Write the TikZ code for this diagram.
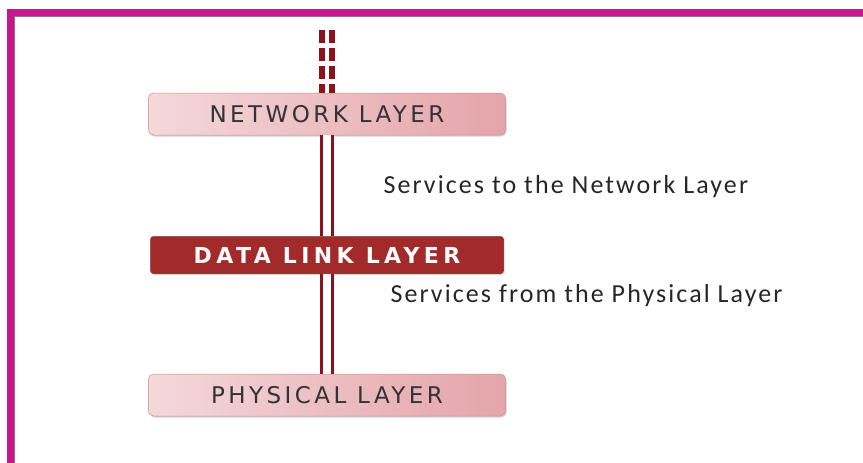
\documentclass[tikz,border=0pt]{standalone}
\usepackage{fontspec}
\setsansfont{Carlito}
\newfontfamily\boxfont[LetterSpace=15]{DejaVu Sans}
\newfontfamily\linkfont[LetterSpace=20]{DejaVu Sans}
\newfontfamily\servicefont[LetterSpace=8]{Carlito}
\usetikzlibrary{positioning, shadows}
\definecolor{framemagenta}{RGB}{200,22,140}
\definecolor{frameedge}{RGB}{150,105,150}
\definecolor{wirered}{RGB}{140,18,30}
\definecolor{linkred}{RGB}{162,42,42}
\definecolor{pinklight}{RGB}{244,216,218}
\definecolor{pinkdark}{RGB}{228,164,170}
\definecolor{pinkedge}{RGB}{205,140,145}

\begin{document}
\begin{tikzpicture}[x=1pt, y=-1pt, font=\sffamily,
    layerbox/.style={rounded corners=5pt, minimum width=357pt, minimum height=42pt,
        left color=pinklight, right color=pinkdark, draw=pinkedge, line width=0.5pt,
        text=black!80, font=\boxfont\fontsize{23}{26}\selectfont,
        drop shadow={shadow xshift=1pt, shadow yshift=-1.5pt, opacity=0.35}},
    linkbox/.style={rounded corners=3pt, minimum width=353pt, minimum height=37pt,
        fill=linkred, draw=linkred!80!black, line width=0.5pt,
        text=white!95!pink, font=\linkfont\bfseries\fontsize{22}{25}\selectfont,
        drop shadow={shadow xshift=1pt, shadow yshift=-1.5pt, opacity=0.35}},
    servicetext/.style={anchor=west, text=black!85, font=\servicefont\fontsize{26}{29}\selectfont},
    wire/.style={draw=wirered, line width=3.5pt, double=white, double distance=7.5pt}]

    \useasboundingbox (0,0) rectangle (863,463);

    % Frame (magenta, top and left only)
    \draw[framemagenta, line width=7pt] (10.5,463) |- (863,12.5);
    \draw[frameedge, line width=1.2pt] (14.6,463) |- (863,16.6);

    % Layers
    \node[layerbox] (network) at (327,114) {NETWORK LAYER};
    \node[linkbox, below=101pt of network] (datalink) {DATA LINK LAYER};
    \node[layerbox, below=100pt of datalink] (physical) {PHYSICAL LAYER};

    % Double lines between the layers
    \coordinate (feed) at (327,30);
    \draw[wire, line width=5.5pt, double distance=4.5pt, dash pattern=on 13pt off 5pt]
        (feed) -- (network.north);
    \draw[wire] (network.south) -- (datalink.north);
    \draw[wire] (datalink.south) -- (physical.north);

    % Services
    \node[servicetext] (toNet) at (380,187) {Services to the Network Layer};
    \node[servicetext] (fromPhy) at (387,296) {Services from the Physical Layer};
\end{tikzpicture}
\end{document}
